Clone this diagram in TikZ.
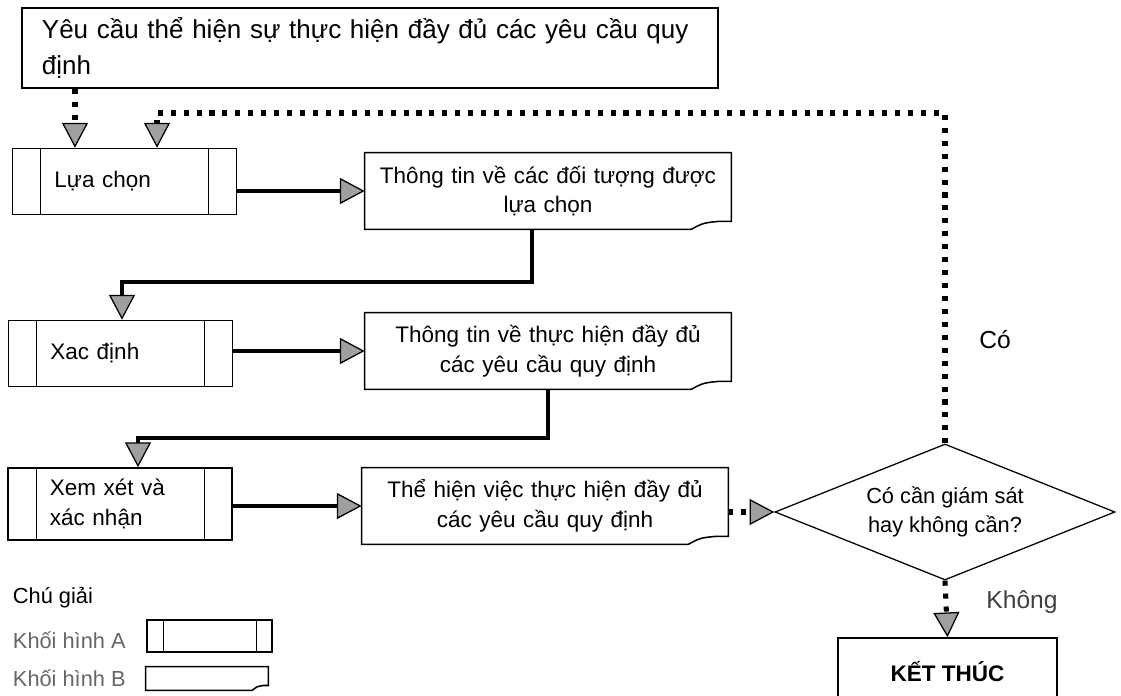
\documentclass[tikz,border=0pt]{standalone}
\usepackage{fontspec}
\setmainfont{Liberation Sans}
\usetikzlibrary{arrows.meta,shapes.geometric}

% outline of a "Khoi hinh B" box: node name, curl width, curl height
\newcommand{\docshape}[3]{%
  \draw[boxline] ([xshift=-#2]#1.south east) -- (#1.south west) -- (#1.north west)
    -- (#1.north east) -- ([yshift=#3]#1.south east)
    -- ([xshift=-0.3*#2, yshift=#3]#1.south east)
    .. controls ([xshift=-0.7*#2, yshift=0.8*#3]#1.south east) .. ([xshift=-#2]#1.south east);
}

\tikzset{
  boxline/.style={line width=1.1pt},
  topbox/.style={rectangle, draw, boxline, minimum width=17.4cm, minimum height=2cm,
    text width=16.4cm, inner xsep=0.5cm, align=left, font=\fontsize{18.5}{25}\selectfont},
  blocka/.style={rectangle, draw, boxline, minimum width=5.6cm, minimum height=1.65cm,
    text width=3.5cm, inner xsep=1.05cm, align=left, font=\fontsize{16}{21}\selectfont,
    path picture={
      \draw[line width=0.5pt] ([xshift=#1]path picture bounding box.north west) -- ([xshift=#1]path picture bounding box.south west);
      \draw[line width=0.5pt] ([xshift=-#1]path picture bounding box.north east) -- ([xshift=-#1]path picture bounding box.south east);
    }},
  blocka/.default=0.7cm,
  blockb/.style={rectangle, minimum width=9.15cm, minimum height=1.9cm,
    text width=8.5cm, align=center, font=\fontsize{16}{21}\selectfont},
  decision/.style={diamond, draw, line width=0.9pt, aspect=2.5, minimum width=8.5cm, minimum height=3.4cm,
    inner sep=0pt, align=center, font=\fontsize{15.5}{21}\selectfont},
  stopbox/.style={rectangle, draw, boxline, minimum width=5.475cm, minimum height=1.7cm,
    font=\bfseries\fontsize{16}{21}\selectfont},
  lbl/.style={font=\fontsize{17.5}{21}\selectfont},
  legtext/.style={anchor=west, font=\fontsize{15.5}{21}\selectfont},
  flow/.style={line width=3.5pt, -{Triangle[length=0.62cm, width=0.65cm, fill=gray!75, line width=0.9pt]}},
  dotflow/.style={line width=3.6pt, dash pattern=on 3.6pt off 5.6pt,
    -{Triangle[length=0.62cm, width=0.65cm, fill=gray!75, line width=0.9pt]}},
}

\begin{document}
\begin{tikzpicture}[x=0.025cm, y=-0.025cm]
  \useasboundingbox (0,0) rectangle (1121,696);

  % boxes
  \node[topbox] (top) at (370,48) {Yêu cầu thể hiện sự thực hiện đầy đủ các yêu cầu quy\\định};
  \node[blocka] (lua) at (124.5,181.5) {Lựa chọn};
  \node[blocka] (xac) at (120.5,353.5) {Xac định};
  \node[blocka, minimum height=1.8cm] (xem) at (120,504) {Xem xét và\\xác nhận};
  \node[blockb] (info1) at (548,191) {Thông tin về các đối tượng được\\lựa chọn};
  \node[blockb] (info2) at (548,351) {Thông tin về thực hiện đầy đủ\\các yêu cầu quy định};
  \node[blockb] (info3) at (545,506) {Thể hiện việc thực hiện đầy đủ\\các yêu cầu quy định};
  \docshape{info1}{1cm}{0.2cm}
  \docshape{info2}{1cm}{0.2cm}
  \docshape{info3}{1cm}{0.2cm}
  \node[decision] (dec) at (945,512) {Có cần giám sát\\hay không cần?};
  \node[stopbox] (stop) at (947.5,672) {KẾT THÚC};

  % bends
  \coordinate (k0) at (75,100);
  \coordinate (k1) at (122,282);
  \coordinate (k2) at (138,438);
  \coordinate (k3) at (157,113);

  % connectors
  \draw[dotflow] (top.south -| k0) -- (k0 |- lua.north);
  \draw[dotflow] (dec.north) |- (k3) -- (k3 |- lua.north);
  \draw[flow] (lua.east |- info1) -- (info1.west);
  \draw[flow] ([xshift=-0.4cm]info1.south) |- (k1) -- (k1 |- xac.north);
  \draw[flow] (xac.east |- info2) -- (info2.west);
  \draw[flow] (info2.south) |- (k2) -- (k2 |- xem.north);
  \draw[flow] (xem.east |- info3) -- (info3.west);
  \draw[dotflow] (info3.east |- dec.west) -- (dec.west);
  \draw[dotflow] (dec.south) -- (stop.north);

  \node[lbl] (yes) at (995,340) {Có};
  \node[lbl, text=black!75] (no) at (1022,602) {Không};

  % legend
  \node[legtext] (leg) at (8,598) {Chú giải};
  \node[legtext, text=black!60] (lega) at (8,640) {Khối hình A};
  \node[legtext, text=black!60] (legb) at (8,678) {Khối hình B};
  \node[blocka=0.4cm, minimum width=3.125cm, minimum height=0.8cm, text width=1cm, inner xsep=0pt] (boxa) at (209.5,636) {};
  \node[blockb, minimum width=3.05cm, minimum height=0.575cm, text width=1cm] (boxb) at (207,678.5) {};
  \docshape{boxb}{0.4cm}{0.12cm}
\end{tikzpicture}
\end{document}
